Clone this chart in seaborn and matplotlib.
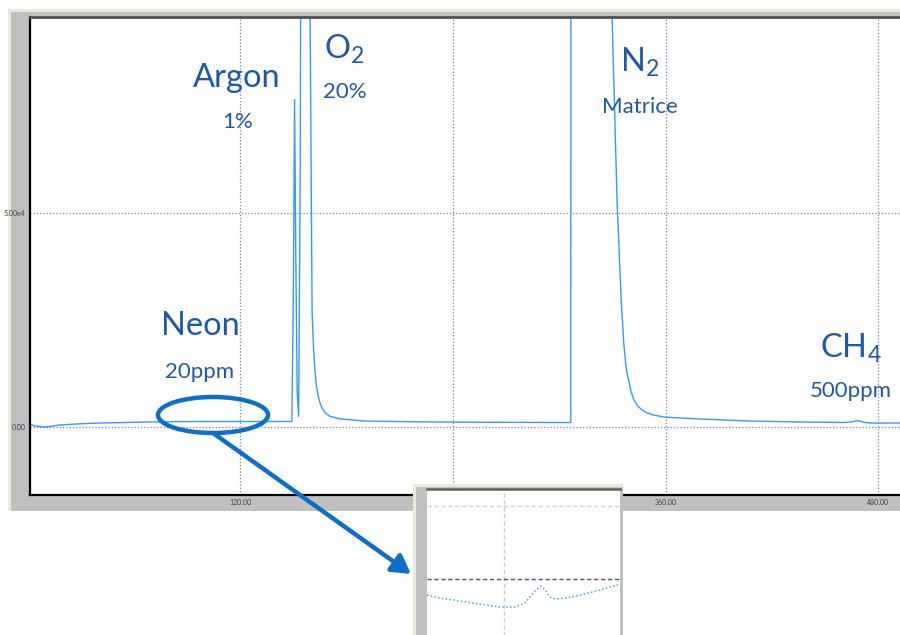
import matplotlib
matplotlib.use("Agg")
import matplotlib.pyplot as plt
import pandas as pd
import seaborn as sns
from matplotlib.patches import Rectangle, Ellipse, FancyArrowPatch

# ---------------- data ----------------
time_min = [1.2, 4.3, 10, 18.4, 30, 41, 55, 69, 85, 97.5, 120, 140,
            149.2, 150.0, 150.7, 151.4, 152.2, 153.0,
            153.9, 154.4, 156.5, 158.5, 159.5, 160.6, 161.4, 162.2, 163.0,
            163.9, 165.0, 166.2, 168.2, 170.7, 176.3, 190, 220, 260, 300,
            306.5, 306.8, 318, 329.0, 329.8, 332.6, 335.0, 336.5, 337.7,
            338.6, 339.4, 340.7, 342.2, 344.2, 346.7, 349.5, 352.9, 359.7,
            379.4, 407.6, 435.8,
            461.2, 465.1, 468.5, 471.9, 475.3, 492.2]
signal = [700, 230, 0, 470, 750, 930, 1050, 1170, 1250, 1280, 1280, 1280,
          1300, 30000, 76500, 40000, 8000, 2500,
          60000, 150000, 260000, 150000, 95000, 26600, 18500, 13300, 9800,
          7500, 5700, 4400, 3200, 2500, 1900, 1400, 1200, 1100, 1050,
          1050, 600000, 700000, 200000, 95800, 53000, 29000, 19000, 14000,
          11800, 10300, 8000, 6300, 4900, 4000, 3300, 2800, 2300,
          1870, 1400, 1170,
          1050, 1200, 1500, 1100, 930, 930]

x_ticks = [120, 240, 360, 480]
x_tick_labels = ["120.00", "240.00", "360.00", "480.00"]
y_ticks = [0, 50000]
y_tick_labels = ["0.00", "5.00e4"]

inset_time = [108, 110, 113.1, 116.2, 119.4, 121.7, 123.2, 124.8, 125.7,
              126.4, 127.1, 128.1, 129.5, 131.8, 134.9, 138]
inset_signal = [-438, -520, -603, -685, -767, -767, -658, -329, -192,
                -301, -493, -548, -520, -438, -301, -137]
inset_ticks = [0, 2000]

peak_names = ["Argon", "O$_2$", "N$_2$", "Neon", "CH$_4$"]
peak_amounts = ["1%", "20%", "Matrice", "20ppm", "500ppm"]

# ---------------- style ----------------
sns.set_style("white")
plt.rcParams["font.family"] = ["Lato", "DejaVu Sans"]
plt.rcParams["mathtext.fontset"] = "custom"
plt.rcParams["mathtext.rm"] = "Lato"
plt.rcParams["mathtext.it"] = "Lato:italic"
plt.rcParams["mathtext.bf"] = "Lato:bold"

W, H = 900, 635
fig = plt.figure(figsize=(9, 6.35), dpi=100, facecolor="white")


def fx(px):
    return px / W


def fy(py):
    return 1 - py / H


def frect(x0, y0, x1, y1, color, z):
    r = Rectangle((fx(x0), fy(y1)), fx(x1) - fx(x0), fy(y0) - fy(y1),
                  transform=fig.transFigure, facecolor=color,
                  edgecolor="none", zorder=z)
    fig.add_artist(r)


# window frame behind the main chart
frect(8, 9, 900, 511, "#ECE9D8", -2)
frect(10.5, 11.5, 900, 511, "#C0C0C0", -1)

grid_color = "#7575EE"
line_color = "#3399FF"

ax = fig.add_axes([fx(29.5), fy(494.5), fx(900) - fx(29.5), fy(17) - fy(494.5)])
ax.set_zorder(1)
ax.set_facecolor("white")
df = pd.DataFrame({"time": time_min, "signal": signal})
sns.lineplot(data=df, x="time", y="signal", ax=ax, color=line_color,
             lw=1.0, estimator=None, sort=False)
ax.set_xlim(1.2, 492.2)
ax.set_ylim(-15770, 95780)
ax.set_xticks(x_ticks)
ax.set_xticklabels(x_tick_labels)
ax.set_yticks(y_ticks)
ax.set_yticklabels(y_tick_labels)
ax.set_xlabel("")
ax.set_ylabel("")
ax.tick_params(length=0, labelsize=5, labelcolor="#404040", pad=3)
ax.grid(True, color=grid_color, linestyle=(0, (1, 1.6)), lw=0.9)
for s in ["left", "bottom"]:
    ax.spines[s].set_color("black")
    ax.spines[s].set_linewidth(1.6)
ax.spines["top"].set_color("#505050")
ax.spines["top"].set_linewidth(2)
ax.spines["right"].set_visible(False)

# ---------------- inset (zoom on neon) ----------------
frect(413, 484, 623, 636, "#ECE9D8", 2)
frect(416, 487, 623, 636, "#C0C0C0", 2)
axi = fig.add_axes([fx(427), fy(636), fx(620) - fx(427), fy(489) - fy(636)])
axi.set_zorder(3)
axi.set_facecolor("white")
dfi = pd.DataFrame({"time": inset_time, "signal": inset_signal})
sns.lineplot(data=dfi, x="time", y="signal", ax=axi, color="#4A9EEA",
             lw=1.1, linestyle=(0, (1, 1.5)), estimator=None, sort=False)
axi.set_xlim(108, 138)
axi.set_ylim(-1560, 2466)
axi.set_xticks([120])
axi.set_yticks(inset_ticks)
axi.set_xticklabels([])
axi.set_yticklabels([])
axi.set_xlabel("")
axi.set_ylabel("")
axi.tick_params(axis="x", length=0)
axi.tick_params(axis="y", length=5, width=1.4, color="#303050", direction="out", pad=0)
axi.axvline(120, color="#C8C8F2", lw=1, linestyle=(0, (3, 2)))
axi.axhline(2000, color="#C8C8F2", lw=1, linestyle=(0, (3, 2)))
axi.axhline(0, color="#4A4A90", lw=1, linestyle=(0, (3, 2)))
for s in ["left", "bottom", "right"]:
    axi.spines[s].set_visible(False)
axi.spines["top"].set_color("#606060")
axi.spines["top"].set_linewidth(1.8)

# ---------------- annotations ----------------
blue = "#0F6FC6"
fig.add_artist(Ellipse((fx(213), fy(415)), width=110 / W, height=36 / H,
                       transform=fig.transFigure, fill=False,
                       edgecolor=blue, lw=3.2, zorder=4))
fig.add_artist(FancyArrowPatch((fx(213), fy(433)), (fx(411), fy(574)),
                               transform=fig.transFigure,
                               arrowstyle="-|>,head_length=0.7,head_width=0.4",
                               mutation_scale=16, lw=3.2, color=blue,
                               shrinkA=0, shrinkB=0, zorder=4))

txt_color = "#1D59A8"
name_pos = [(237, 87), (344, 59), (640, 72), (200, 335), (851, 358)]
amount_pos = [(238, 128), (345, 98), (640, 113), (200, 378), (851, 397)]
for name, (x, y) in zip(peak_names, name_pos):
    fig.text(fx(x), fy(y), name, ha="center", va="baseline",
             fontsize=23.5, color=txt_color, zorder=5)
for amt, (x, y) in zip(peak_amounts, amount_pos):
    fig.text(fx(x), fy(y), amt, ha="center", va="baseline",
             fontsize=16, color=txt_color, zorder=5)

fig.savefig("out.png", dpi=100)
